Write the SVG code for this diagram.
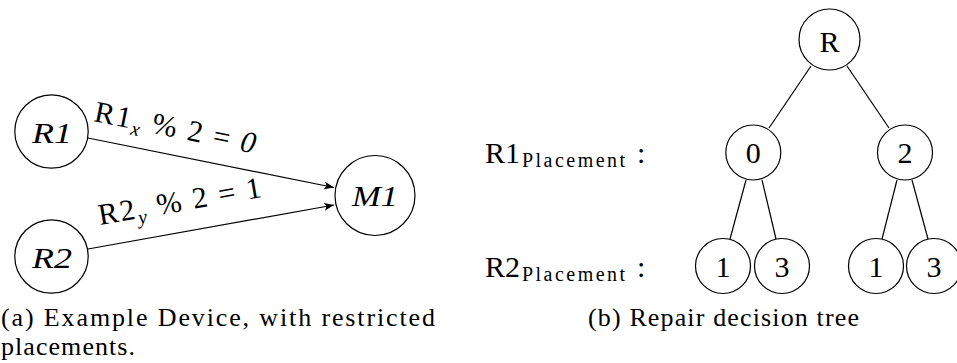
<svg xmlns="http://www.w3.org/2000/svg" width="957" height="363" viewBox="0 0 957 363" font-family="'Liberation Serif', 'DejaVu Serif', serif">
<style>
  .node { fill: #fff; stroke: #000; stroke-width: 1.2; }
  .edge { fill: none; stroke: #000; stroke-width: 1.2; }
  text { font-family: 'Liberation Serif', 'DejaVu Serif', serif; fill: #000; }
  .lbl { font-size: 30px; }
  .it { font-style: italic; }
  .mid { text-anchor: middle; }
  .cap { font-size: 26px; }
  .sub { font-size: 20px; }
</style>
<defs>
  <marker id="arr" viewBox="0 0 10 8" refX="10" refY="4" markerWidth="10" markerHeight="8" markerUnits="userSpaceOnUse" orient="auto">
    <path d="M0,0 L10,4 L0,8 L2.5,4 Z" fill="#000"/>
  </marker>
</defs>
<rect width="957" height="363" fill="#fff"/>

<g id="connectors">
  <line class="edge" x1="88" y1="138" x2="334" y2="187.5" marker-end="url(#arr)"/>
  <line class="edge" x1="88" y1="249" x2="334" y2="205" marker-end="url(#arr)"/>
  <line class="edge" x1="811" y1="66" x2="769" y2="128"/>
  <line class="edge" x1="847" y1="66" x2="889" y2="128"/>
  <line class="edge" x1="746" y1="180" x2="730" y2="239"/>
  <line class="edge" x1="762" y1="180" x2="776" y2="239"/>
  <line class="edge" x1="897" y1="180" x2="882" y2="239"/>
  <line class="edge" x1="912" y1="180" x2="928" y2="239"/>
</g>

<g id="edge-label-1">
  <text class="lbl" x="93" y="121" transform="rotate(11.4 93 121)" textLength="164" lengthAdjust="spacing">R1<tspan class="it sub" dy="6">x</tspan><tspan dy="-6"> % 2 = </tspan><tspan class="it">0</tspan></text>
</g>
<g id="edge-label-2">
  <text class="lbl" x="100" y="225" transform="rotate(-9.8 100 225)" textLength="165" lengthAdjust="spacing">R2<tspan class="it sub" dy="6">y</tspan><tspan dy="-6"> % 2 = 1</tspan></text>
</g>

<g id="node-R1">
  <circle class="node" cx="51.5" cy="131.5" r="36.7"/>
  <text class="lbl it" x="32" y="143" textLength="40" lengthAdjust="spacingAndGlyphs">R1</text>
</g>
<g id="node-R2">
  <circle class="node" cx="51.5" cy="256.5" r="36.7"/>
  <text class="lbl it" x="32" y="268" textLength="40" lengthAdjust="spacingAndGlyphs">R2</text>
</g>
<g id="node-M1">
  <circle class="node" cx="375" cy="195.5" r="40"/>
  <text class="lbl it" x="352" y="206" textLength="46" lengthAdjust="spacingAndGlyphs">M1</text>
</g>

<g id="label-R1-placement">
  <text class="lbl" x="485" y="163">R1<tspan class="sub" x="522" dy="4" textLength="103" lengthAdjust="spacing">Placement</tspan><tspan dy="-4" x="637">:</tspan></text>
</g>
<g id="label-R2-placement">
  <text class="lbl" x="485" y="277">R2<tspan class="sub" x="522" dy="4" textLength="103" lengthAdjust="spacing">Placement</tspan><tspan dy="-4" x="637">:</tspan></text>
</g>

<g id="node-R">
  <circle class="node" cx="829.5" cy="39.5" r="30.5"/>
  <text class="lbl mid" x="829.5" y="52">R</text>
</g>
<g id="node-0">
  <circle class="node" cx="753.3" cy="152.5" r="27.5"/>
  <text class="lbl mid" x="753.3" y="163">0</text>
</g>
<g id="node-2">
  <circle class="node" cx="905" cy="152.5" r="27.5"/>
  <text class="lbl mid" x="905" y="163">2</text>
</g>
<g id="node-0-1">
  <circle class="node" cx="723" cy="266" r="27.5"/>
  <text class="lbl mid" x="723" y="277">1</text>
</g>
<g id="node-0-3">
  <circle class="node" cx="782" cy="266" r="27.5"/>
  <text class="lbl mid" x="782" y="277">3</text>
</g>
<g id="node-2-1">
  <circle class="node" cx="876" cy="266" r="27.5"/>
  <text class="lbl mid" x="876" y="277">1</text>
</g>
<g id="node-2-3">
  <circle class="node" cx="934" cy="266" r="27.5"/>
  <text class="lbl mid" x="934" y="277">3</text>
</g>

<g id="captions">
  <text class="cap" x="1" y="326" textLength="434" lengthAdjust="spacing">(a) Example Device, with restricted</text>
  <text class="cap" x="1" y="355" textLength="134" lengthAdjust="spacing">placements.</text>
  <text class="cap" x="588" y="326" textLength="271" lengthAdjust="spacing">(b) Repair decision tree</text>
</g>
</svg>
